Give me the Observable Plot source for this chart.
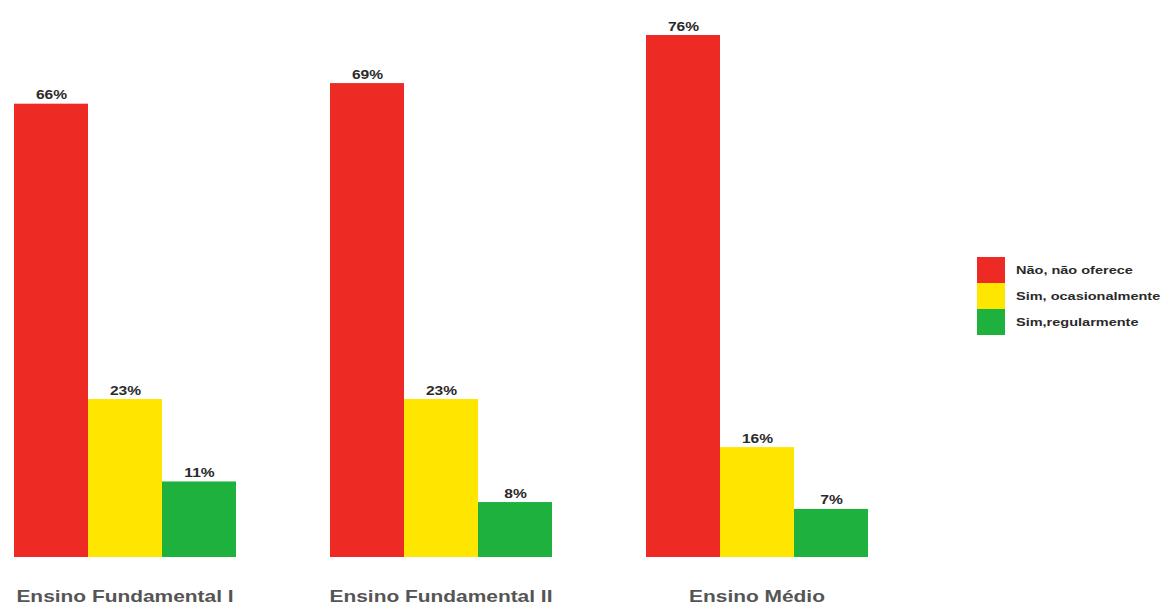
<!DOCTYPE html>
<html>
<head>
<meta charset="utf-8">
<script src="https://cdn.jsdelivr.net/npm/d3@7"></script>
<script src="https://cdn.jsdelivr.net/npm/@observablehq/plot@0.6"></script>
<style>
  html, body { margin: 0; padding: 0; background: #fff; }
  #wrap { position: relative; width: 1164px; height: 605px; overflow: hidden; }
  #legend { position: absolute; left: 977px; top: 257px; font-family: "Liberation Sans", Arial, sans-serif; font-size: 10px; font-weight: bold; color: #2a2a2a; }
  .row { display: flex; align-items: center; height: 26px; white-space: nowrap; }
  .sw { width: 28px; height: 26px; margin-right: 11px; flex: none; }
  .lt { display: inline-block; transform: scaleX(1.45); transform-origin: left center; }
</style>
</head>
<body>
<div id="wrap"><div id="chart"></div><div id="legend"></div></div>
<script>
const groups = ["Ensino Fundamental I", "Ensino Fundamental II", "Ensino Médio"];
const series = ["Não, não oferece", "Sim, ocasionalmente", "Sim,regularmente"];
const colors = ["#ee2a24", "#ffe600", "#1fb13e"];
const valuesNao = [66, 69, 76];
const valuesOcasional = [23, 23, 16];
const valuesRegular = [11, 8, 7];

const allValues = [valuesNao, valuesOcasional, valuesRegular];
const data = [];
groups.forEach((g, gi) => {
  series.forEach((s, si) => {
    data.push({group: g, series: s, value: allValues[si][gi]});
  });
});

const chart = Plot.plot({
  width: 1164,
  height: 605,
  marginLeft: 13,
  marginRight: 295,
  marginTop: 35,
  marginBottom: 48,
  style: {fontFamily: "'Liberation Sans', Arial, sans-serif", background: "#fff"},
  fx: {domain: groups, paddingInner: 0.294, paddingOuter: 0, label: null},
  x: {domain: series, padding: 0, axis: null},
  y: {domain: [0, 76], axis: null},
  color: {domain: series, range: colors},
  marks: [
    Plot.barY(data, {fx: "group", x: "series", y: "value", fill: "series"}),
    Plot.text(data, {fx: "group", x: "series", y: "value", text: d => d.value + "%", lineAnchor: "bottom", dy: -5, fontSize: 12, fontWeight: "bold", fill: "#2a2a2a"}),
    Plot.axisFx({anchor: "bottom", tickSize: 0, tickPadding: 32, label: null, fontSize: 17, fontWeight: "bold", fill: "#555"})
  ]
});
document.getElementById("chart").appendChild(chart);

// horizontal stretch of text to match the reference's wide lettering
function stretch(selector, k) {
  chart.querySelectorAll(selector).forEach(t => {
    const tr = t.getAttribute("transform") || "";
    t.setAttribute("transform", tr + ` scale(${k},1)`);
  });
}
stretch('g[aria-label="text"] text', 1.3);
stretch('g[aria-label="fx-axis tick label"] text', 1.23);

const legend = document.getElementById("legend");
series.forEach((s, i) => {
  const row = document.createElement("div");
  row.className = "row";
  const sw = document.createElement("div");
  sw.className = "sw";
  sw.style.background = colors[i];
  const t = document.createElement("span");
  t.className = "lt";
  t.textContent = s;
  row.appendChild(sw);
  row.appendChild(t);
  legend.appendChild(row);
});
</script>
</body>
</html>
